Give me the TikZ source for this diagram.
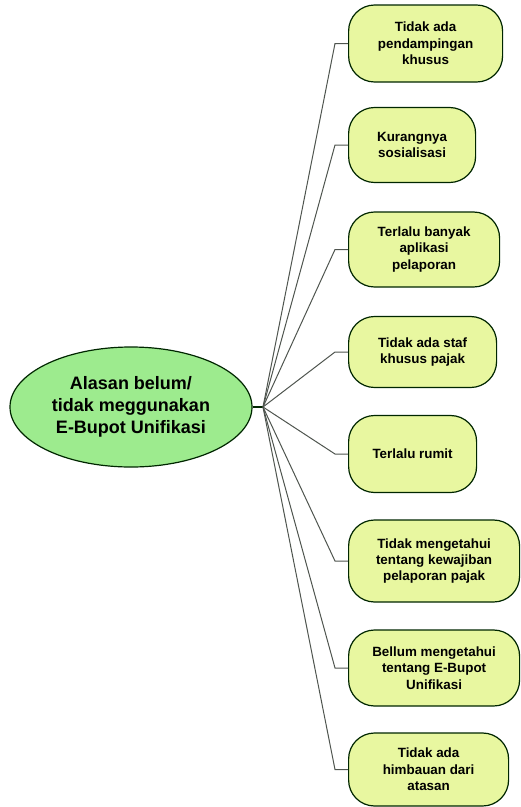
\documentclass[tikz,border=0pt]{standalone}
\usepackage{fontspec}
\setmainfont{Liberation Sans}
\usetikzlibrary{positioning,shapes.geometric}

\definecolor{rootgreen}{HTML}{9DEB8E}
\definecolor{leafyellow}{HTML}{E8F7A0}
\definecolor{linkgray}{HTML}{4F554F}

\tikzset{
  reason/.style={draw=black!85!green, line width=1.2pt, fill=leafyellow,
    rounded corners=26pt, align=center, inner sep=0pt, anchor=west,
    font=\bfseries\fontsize{13.4}{16.4}\selectfont},
  root/.style={ellipse, draw=black!85!green, line width=1.2pt, fill=rootgreen,
    minimum width=242pt, minimum height=120pt, inner sep=0pt, align=center,
    font=\bfseries\fontsize{18}{22}\selectfont},
  link/.style={draw=linkgray, line width=1pt}
}

\begin{document}
\begin{tikzpicture}[x=1pt,y=-1pt]
  \useasboundingbox (0,0) rectangle (521,807);
  \node[root] (root) at (131,407) {Alasan belum/\\tidak meggunakan\\E-Bupot Unifikasi};
  \coordinate (hub) at (263,407);
  %
  \node[reason, minimum width=154pt, minimum height=77pt] (r1) at (348,43.5) {Tidak ada\\pendampingan\\khusus};
  \node[reason, minimum width=127pt, minimum height=75pt] (r2) at (348,145) {Kurangnya\\sosialisasi};
  \node[reason, minimum width=151pt, minimum height=75pt] (r3) at (348,249.5) {Terlalu banyak\\aplikasi\\pelaporan};
  \node[reason, minimum width=148pt, minimum height=71pt] (r4) at (348,352) {Tidak ada staf\\khusus pajak};
  \node[reason, minimum width=128pt, minimum height=77pt] (r5) at (348,454) {Terlalu rumit};
  \node[reason, minimum width=171pt, minimum height=82pt] (r6) at (348,561) {Tidak mengetahui\\tentang kewajiban\\pelaporan pajak};
  \node[reason, minimum width=171pt, minimum height=76pt] (r7) at (348,668) {Bellum mengetahui\\tentang E-Bupot\\Unifikasi};
  \node[reason, minimum width=160pt, minimum height=73pt] (r8) at (348,769.5) {Tidak ada\\himbauan dari\\atasan};
  %
  \draw[draw=black!85!green, line width=1.2pt] (root.east) -- (hub);
  \foreach \i in {1,...,8}
    \draw[link] (hub) -- ([xshift=-13pt]r\i.west) -- (r\i.west);
\end{tikzpicture}
\end{document}
